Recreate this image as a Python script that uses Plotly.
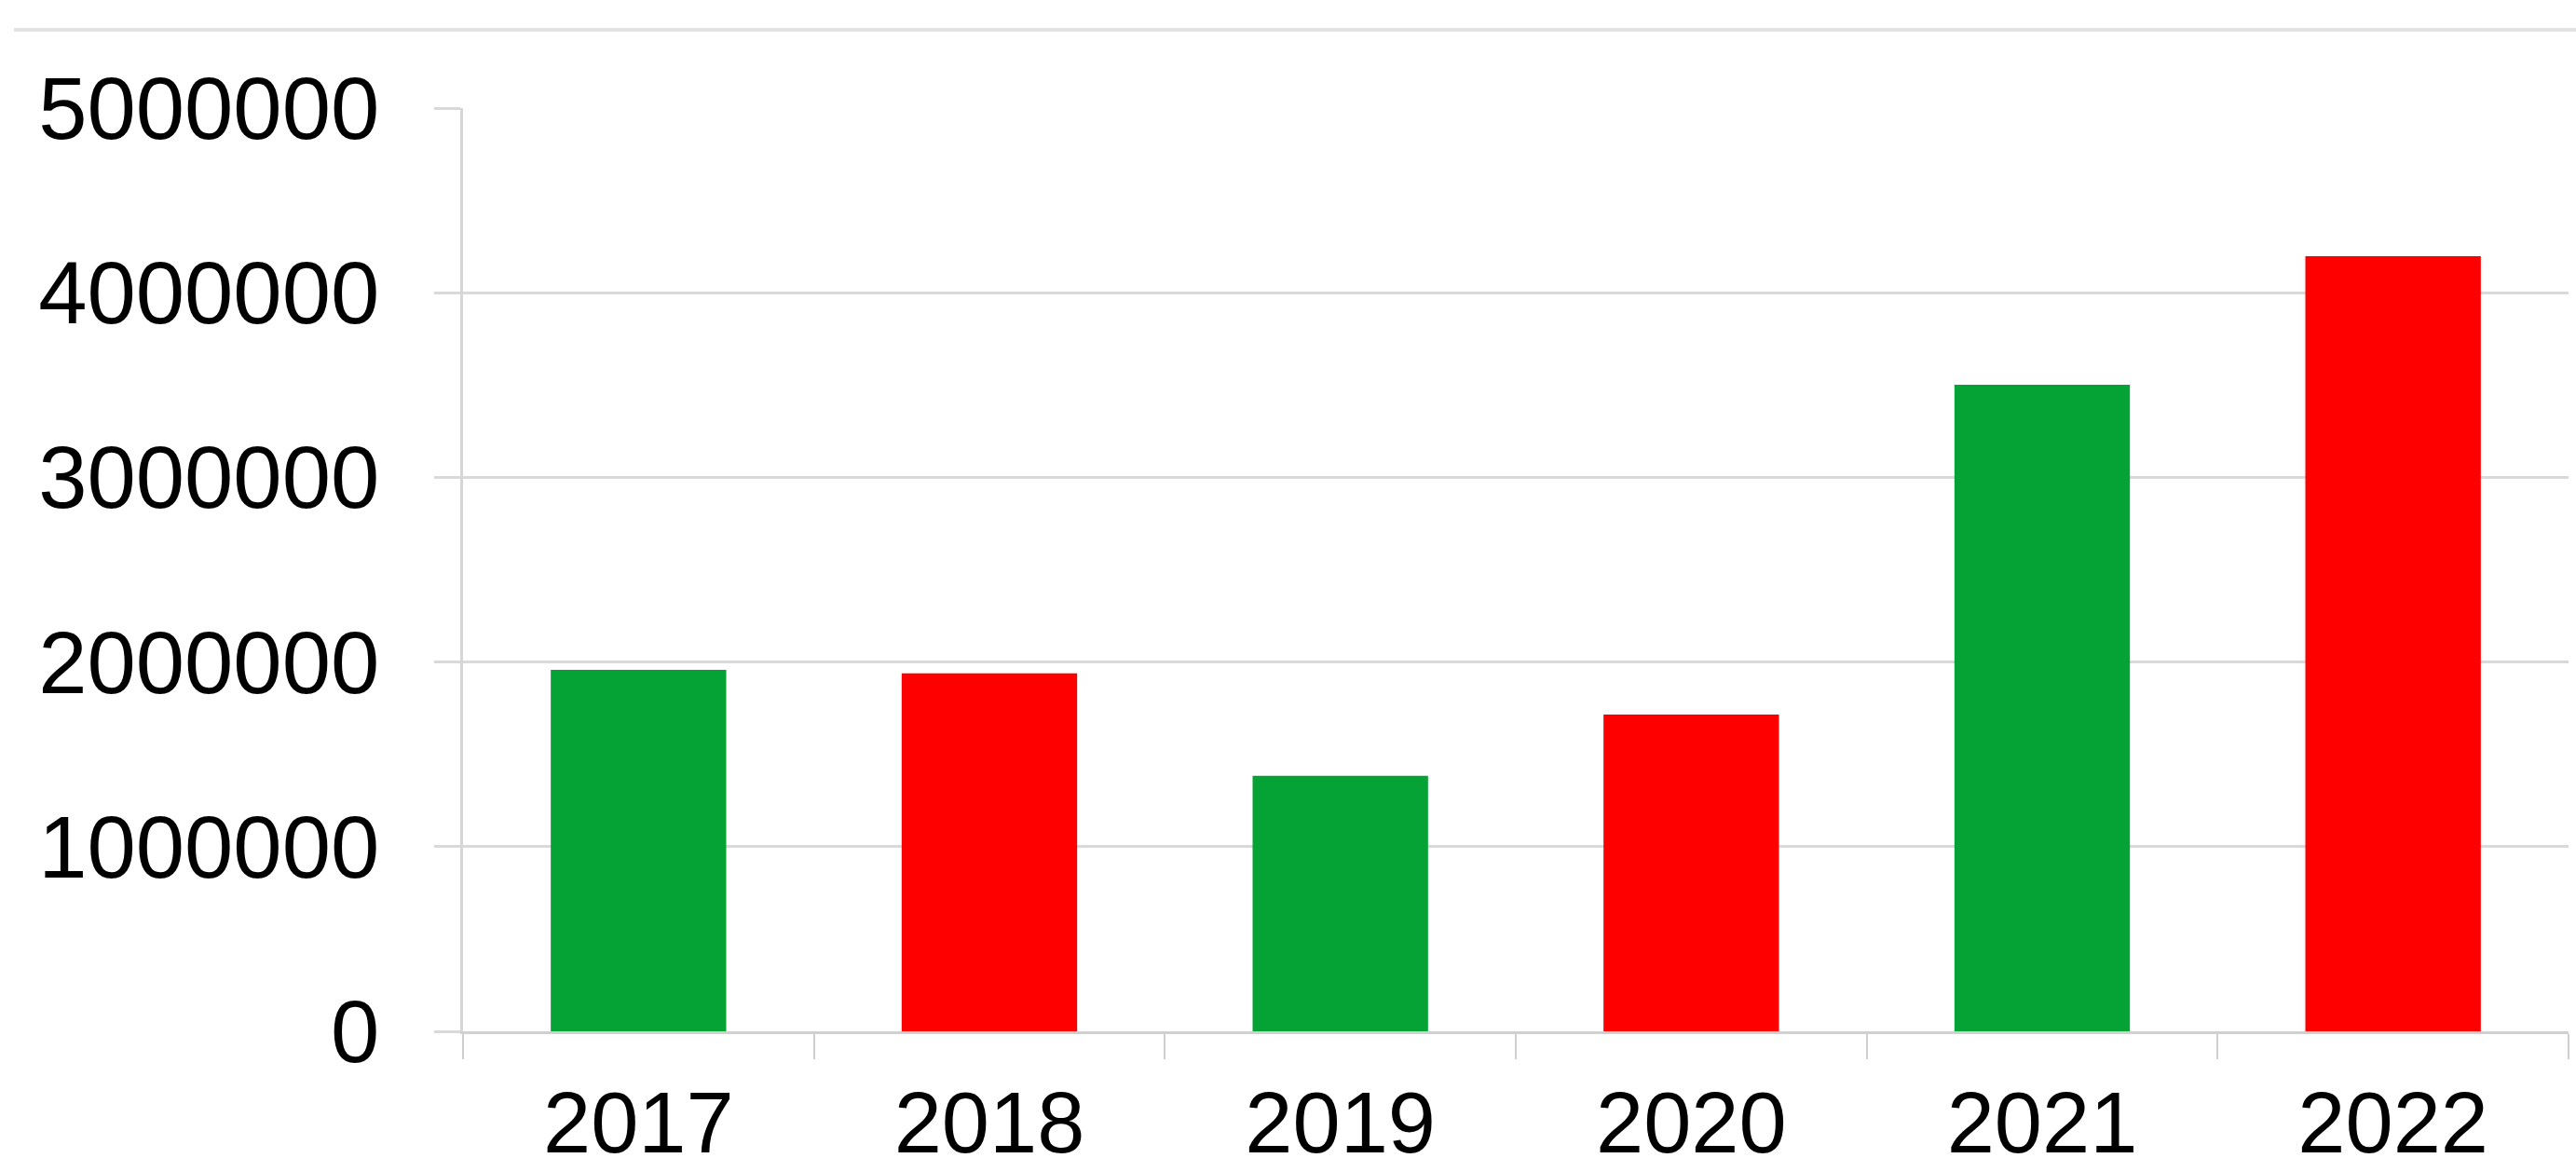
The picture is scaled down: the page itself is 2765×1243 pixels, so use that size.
import plotly.graph_objects as go

years = ["2017", "2018", "2019", "2020", "2021", "2022"]
values = [1958000, 1939000, 1384000, 1716000, 3502000, 4198000]
bar_colors = ["#05A335", "#FF0000", "#05A335", "#FF0000", "#05A335", "#FF0000"]
y_ticks = [0, 1000000, 2000000, 3000000, 4000000, 5000000]
y_tick_text = ["0", "1000000", "2000000", "3000000", "4000000", "5000000"]

W, H = 2765, 1243
ML, MR, MT, MB = 497, 8, 116, 136
grid = "#D9D9D9"
font = dict(family="Liberation Sans, Arial, sans-serif", size=92, color="#000000")

fig = go.Figure(
    go.Bar(x=years, y=values, marker=dict(color=bar_colors, line=dict(width=0)),
           hoverinfo="x+y")
)

plot_h = H - MT - MB
plot_w = W - ML - MR
fig.add_shape(type="line", xref="paper", yref="paper",
              x0=(15 - ML) / plot_w, x1=(W + 5 - ML) / plot_w,
              y0=1 + (MT - 32) / plot_h, y1=1 + (MT - 32) / plot_h,
              line=dict(color="#E2E2E2", width=4), layer="below")

fig.update_layout(
    width=W, height=H,
    margin=dict(l=ML, r=MR, t=MT, b=MB, autoexpand=False),
    paper_bgcolor="white", plot_bgcolor="white",
    bargap=0.5, showlegend=False, font=font,
)
fig.update_xaxes(
    type="category", tickson="boundaries", ticks="outside", ticklen=27,
    tickwidth=2, tickcolor="#CFCFCF", showgrid=False,
    showline=True, linecolor="#D0D0D0", linewidth=3,
    tickfont=font, automargin=False, ticklabelstandoff=17,
)
fig.update_yaxes(
    range=[0, 5000000], tickvals=y_ticks, ticktext=y_tick_text,
    showgrid=True, gridcolor=grid, gridwidth=3,
    ticks="outside", ticklen=28, tickwidth=3, tickcolor=grid,
    showline=True, linecolor="#D6D6D6", linewidth=3,
    zeroline=False, tickfont=dict(font, size=94), automargin=False,
    ticklabelstandoff=40,
)

fig.write_html(
    "out.html",
    config={"displayModeBar": False},
    post_script="document.body.style.margin='0';document.body.style.overflow='hidden';",
)
